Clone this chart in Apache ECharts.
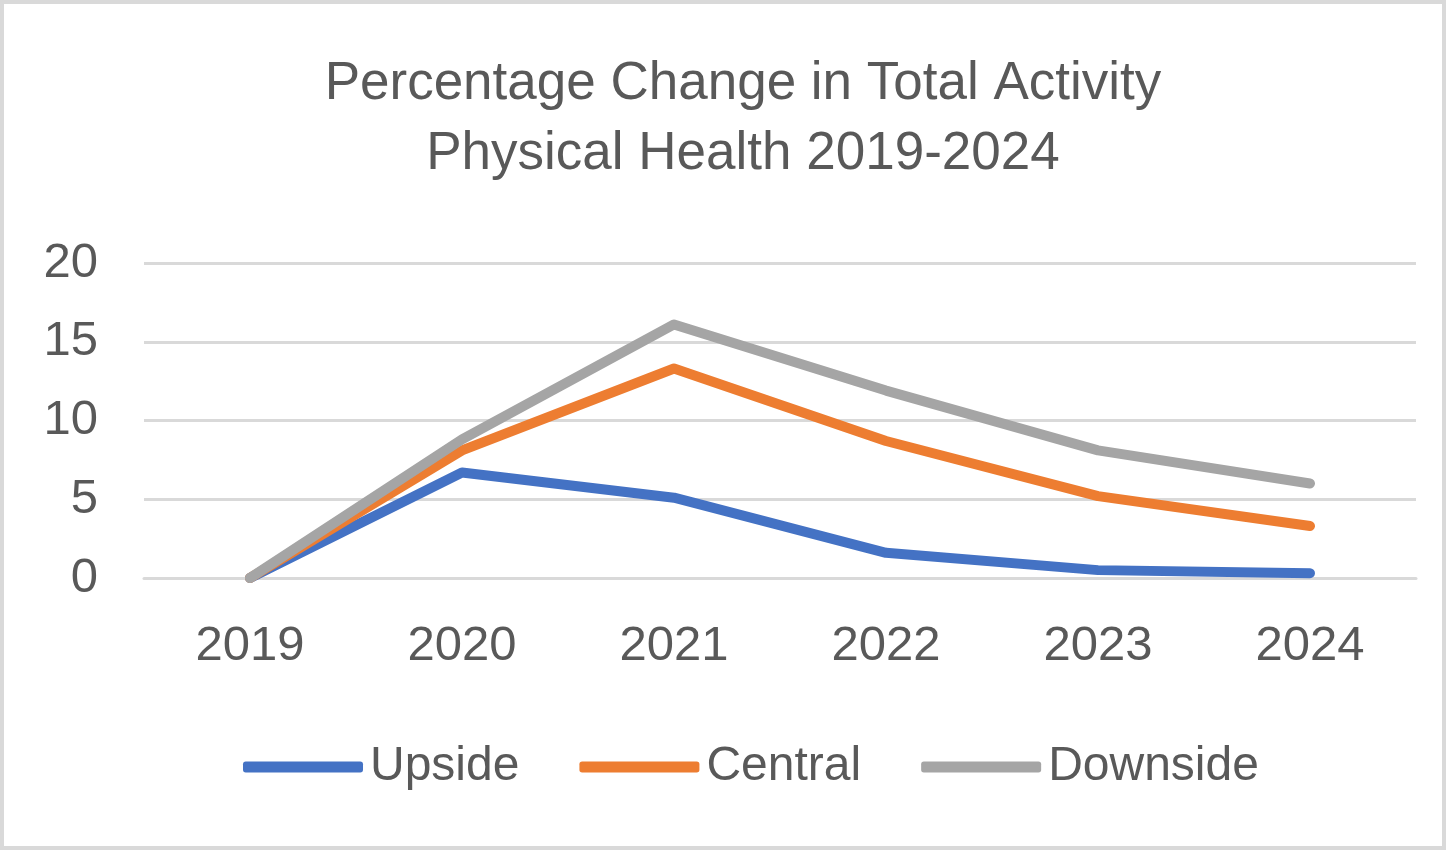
<!DOCTYPE html>
<html>
<head>
<meta charset="utf-8">
<script src="https://cdn.jsdelivr.net/npm/echarts@6/dist/echarts.min.js"></script>
<style>
  html, body { margin: 0; padding: 0; background: #ffffff; }
  #frame { width: 1446px; height: 850px; box-sizing: border-box; border: 4px solid #d9d9d9; background: #fff; }
  #chart { width: 1438px; height: 842px; }
</style>
</head>
<body>
<div id="frame"><div id="chart"></div></div>
<script>
const titleLines = ['Percentage Change in Total Activity', 'Physical Health 2019-2024'];
const years = ['2019', '2020', '2021', '2022', '2023', '2024'];
const upside = [0, 6.7, 5.1, 1.6, 0.5, 0.3];
const central = [0, 8.1, 13.3, 8.7, 5.2, 3.3];
const downside = [0, 8.8, 16.1, 11.9, 8.1, 6.0];
const seriesNames = ['Upside', 'Central', 'Downside'];
const seriesColors = ['#4472C4', '#ED7D31', '#A5A5A5'];

const FONT = "'Liberation Sans', Arial, sans-serif";
const chart = echarts.init(document.getElementById('chart'));
const mk = (name, data, color) => ({
  name, type: 'line', data, symbol: 'none', smooth: false,
  itemStyle: { color },
  lineStyle: { color, width: 10, cap: 'round', join: 'round' },
  emphasis: { disabled: true },
  animation: false
});
chart.setOption({
  backgroundColor: '#ffffff',
  animation: false,
  title: {
    text: titleLines.join('\n'),
    left: 734, top: 40, textAlign: 'center',
    textStyle: { fontFamily: FONT, fontSize: 53, fontWeight: 'normal', color: '#595959', lineHeight: 70 }
  },
  legend: {
    bottom: 50, left: 234,
    itemWidth: 120, itemHeight: 11, itemGap: 60,
    icon: 'roundRect',
    textStyle: { fontFamily: FONT, fontSize: 48, color: '#595959', padding: [0, 0, 0, 2] },
    data: seriesNames
  },
  grid: { left: 140, right: 26, top: 259, bottom: 268 },
  xAxis: {
    type: 'category', data: years, boundaryGap: true,
    axisLine: { show: true, lineStyle: { color: '#d9d9d9', width: 3 } },
    axisTick: { show: false },
    axisLabel: { fontFamily: FONT, fontSize: 49, color: '#595959', margin: 44 }
  },
  yAxis: {
    type: 'value', min: 0, max: 20, interval: 5,
    axisLine: { show: false }, axisTick: { show: false },
    splitLine: { lineStyle: { color: '#d9d9d9', width: 3 } },
    axisLabel: { fontFamily: FONT, fontSize: 49, color: '#595959', margin: 46 }
  },
  series: [
    mk(seriesNames[0], upside, seriesColors[0]),
    mk(seriesNames[1], central, seriesColors[1]),
    mk(seriesNames[2], downside, seriesColors[2])
  ]
});
</script>
</body>
</html>
